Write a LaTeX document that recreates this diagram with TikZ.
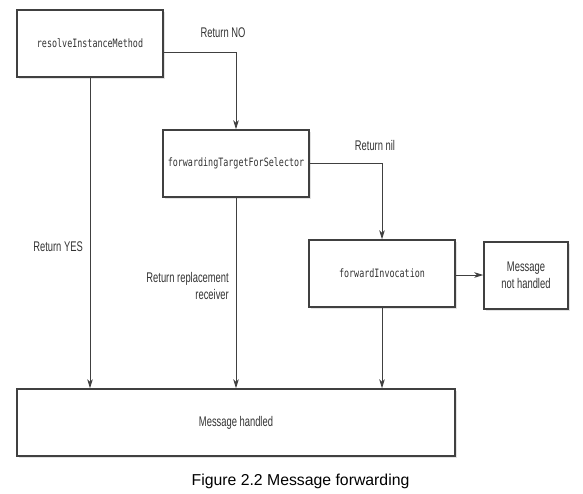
\documentclass[tikz,border=0pt]{standalone}
\usepackage{fontspec}
\usetikzlibrary{arrows.meta,shadows}
\newfontfamily\codefont[FakeStretch=0.73]{DejaVu Sans Mono}
\newfontfamily\labfont[FakeStretch=0.67]{Liberation Sans}
\newfontfamily\capfont{Liberation Sans}
\begin{document}
\begin{tikzpicture}[x=1pt,y=-1pt,
  boxstyle/.style={draw=black!75, line width=1.4pt, fill=white, rectangle,
    minimum height=67pt, inner sep=0pt,
    drop shadow={shadow xshift=1.5pt, shadow yshift=-2pt, fill=black!22}},
  codetext/.style={font=\codefont\fontsize{11.5}{14}\selectfont, text=black!80},
  labtext/.style={font=\labfont\fontsize{14}{17}\selectfont, text=black!80, inner sep=0pt},
  arr/.style={draw=black!75, line width=0.9pt, -{Stealth[length=9pt,width=5.5pt,inset=2.5pt]}},
  plain/.style={draw=black!75, line width=0.9pt}]
\useasboundingbox (0,0) rectangle (583,493);
\node[boxstyle, codetext, minimum width=146pt] (b1) at (90,43.5) {resolveInstanceMethod};
\node[boxstyle, codetext, minimum width=146pt] (b2) at (236,163.5) {forwardingTargetForSelector};
\node[boxstyle, codetext, minimum width=146pt] (b3) at (382,273.5) {forwardInvocation};
\node[boxstyle, labtext, minimum width=84pt, align=center] (b4) at (526,275.5) {Message\\not handled};
\node[boxstyle, labtext, minimum width=438pt] (b5) at (236,422.5) {Message handled};

\draw[arr] ([yshift=-8.5pt]b1.east) -| (b2.north);
\draw[arr] (b2.east) -| (b3.north);
\draw[arr] ([yshift=-1.5pt]b3.east) -- ([yshift=-1.5pt]b3.east -| b4.west);
\draw[arr] (b1.south) -- (b1.south |- b5.north);
\draw[arr] (b2.south) -- (b2.south |- b5.north);
\draw[arr] (b3.south) -- (b3.south |- b5.north);

\node[labtext] (lno) at (223,33) {Return NO};
\node[labtext] (lnil) at (375,145) {Return nil};
\node[labtext, anchor=east] (lyes) at (83,247) {Return YES};
\node[labtext, anchor=east, align=right] (lrep) at (229,285.5) {Return replacement\\receiver};
\node[font=\capfont\fontsize{15.8}{19}\selectfont, inner sep=0pt] (cap) at (300.5,481) {Figure 2.2 Message forwarding};
\end{tikzpicture}
\end{document}
